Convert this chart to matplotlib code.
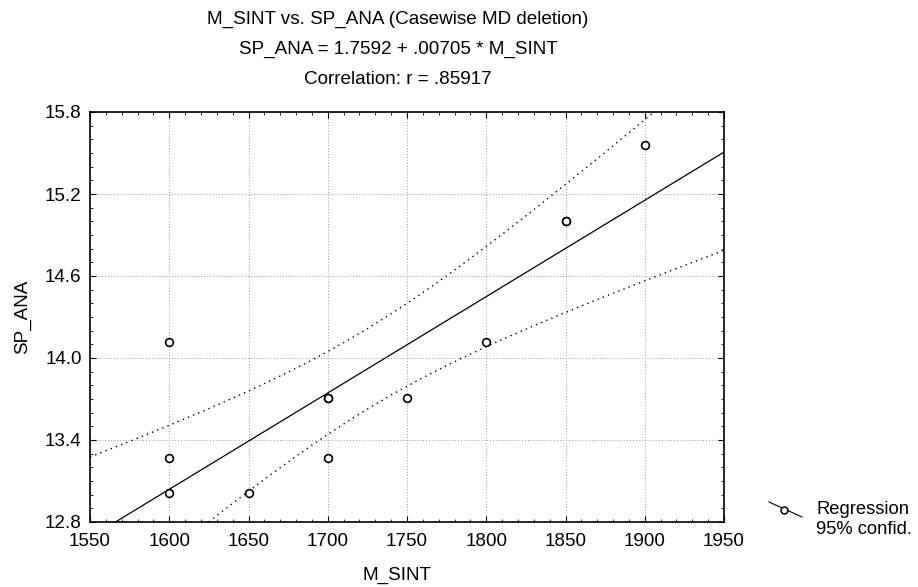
import numpy as np
import matplotlib
matplotlib.use("Agg")
import matplotlib.pyplot as plt
from matplotlib.lines import Line2D

plt.rcParams['font.family'] = ['Liberation Sans', 'DejaVu Sans']

# Data
m_sint = [1600, 1600, 1600, 1650, 1700, 1700, 1700, 1750, 1800, 1850, 1850, 1900]
sp_ana = [14.12, 13.27, 13.01, 13.01, 13.71, 13.71, 13.27, 13.71, 14.12, 15.0, 15.0, 15.56]
intercept = 1.7592
slope = 0.00705
x_ticks = [1550, 1600, 1650, 1700, 1750, 1800, 1850, 1900, 1950]
y_ticks = [12.8, 13.4, 14.0, 14.6, 15.2, 15.8]
title_lines = ["M_SINT vs. SP_ANA (Casewise MD deletion)",
               "SP_ANA = 1.7592 + .00705 * M_SINT",
               "Correlation: r = .85917"]

x = np.array(m_sint, float)
y = np.array(sp_ana, float)
n = len(x)
res = y - (intercept + slope * x)
s = np.sqrt(np.sum(res ** 2) / (n - 2))
sxx = np.sum((x - x.mean()) ** 2)
t = 2.228

W, H = 918, 587
fig = plt.figure(figsize=(W / 100, H / 100), dpi=100)
ax = fig.add_axes([90 / W, 1 - 522 / H, 634 / W, 410 / H])

xs = np.linspace(1550, 1950, 400)
yfit = intercept + slope * xs
hw = t * s * np.sqrt(1 / n + (xs - x.mean()) ** 2 / sxx)

ax.grid(True, which='major', color='#9a9a9a', linestyle=(0, (1, 2)), linewidth=0.7)
ax.set_axisbelow(True)
ax.plot(xs, yfit, color='black', linewidth=0.9)
ax.plot(xs, yfit + hw, color='black', linewidth=1.0, linestyle=(0, (1, 3)))
ax.plot(xs, yfit - hw, color='black', linewidth=1.0, linestyle=(0, (1, 3)))
ax.plot(x, y, linestyle='none', marker='o', markersize=5.6, markerfacecolor='white',
        markeredgecolor='black', markeredgewidth=1.2, zorder=5)

ax.set_xlim(1550, 1950)
ax.set_ylim(12.8, 15.8)
ax.set_xticks(x_ticks)
ax.set_xticklabels([str(v) for v in x_ticks])
ax.set_yticks(y_ticks)
ax.set_yticklabels([f"{v:.1f}" for v in y_ticks])
ax.set_xticks(np.arange(1550, 1951, 10), minor=True)
ax.set_yticks(np.arange(12.8, 15.81, 0.1), minor=True)
ax.tick_params(which='both', direction='in', top=True, right=True, labelsize=13.6, color='black')
ax.tick_params(which='major', length=4, width=0.8)
ax.tick_params(axis='x', which='major', pad=8)
ax.tick_params(axis='y', which='major', pad=6)
ax.tick_params(which='minor', length=2.5, width=0.6)
for sp in ax.spines.values():
    sp.set_linewidth(1.2)

fig.text(397 / W, 1 - 575 / H, "M_SINT", ha='center', va='center', fontsize=13.6)
fig.text(23 / W, 1 - 317 / H, "SP_ANA", ha='center', va='center', rotation=90, fontsize=13.6)

for i, (line, yy) in enumerate(zip(title_lines, [19, 49, 79])):
    fig.text(398 / W, 1 - yy / H, line, ha='center', va='center', fontsize=13.6)

# Legend
leg_line = Line2D([769 / W, 802 / W], [1 - 502 / H, 1 - 517 / H], transform=fig.transFigure,
                  color='black', linewidth=0.8)
fig.add_artist(leg_line)
leg_mk = Line2D([784 / W], [1 - 509.5 / H], transform=fig.transFigure, linestyle='none',
                marker='o', markersize=5, markerfacecolor='white', markeredgecolor='black',
                markeredgewidth=1.1)
fig.add_artist(leg_mk)
fig.text(816 / W, 1 - 510 / H, "Regression", ha='left', va='center', fontsize=13.2)
fig.text(816 / W, 1 - 530 / H, "95% confid.", ha='left', va='center', fontsize=13.2)

fig.savefig("out.png", dpi=100)
